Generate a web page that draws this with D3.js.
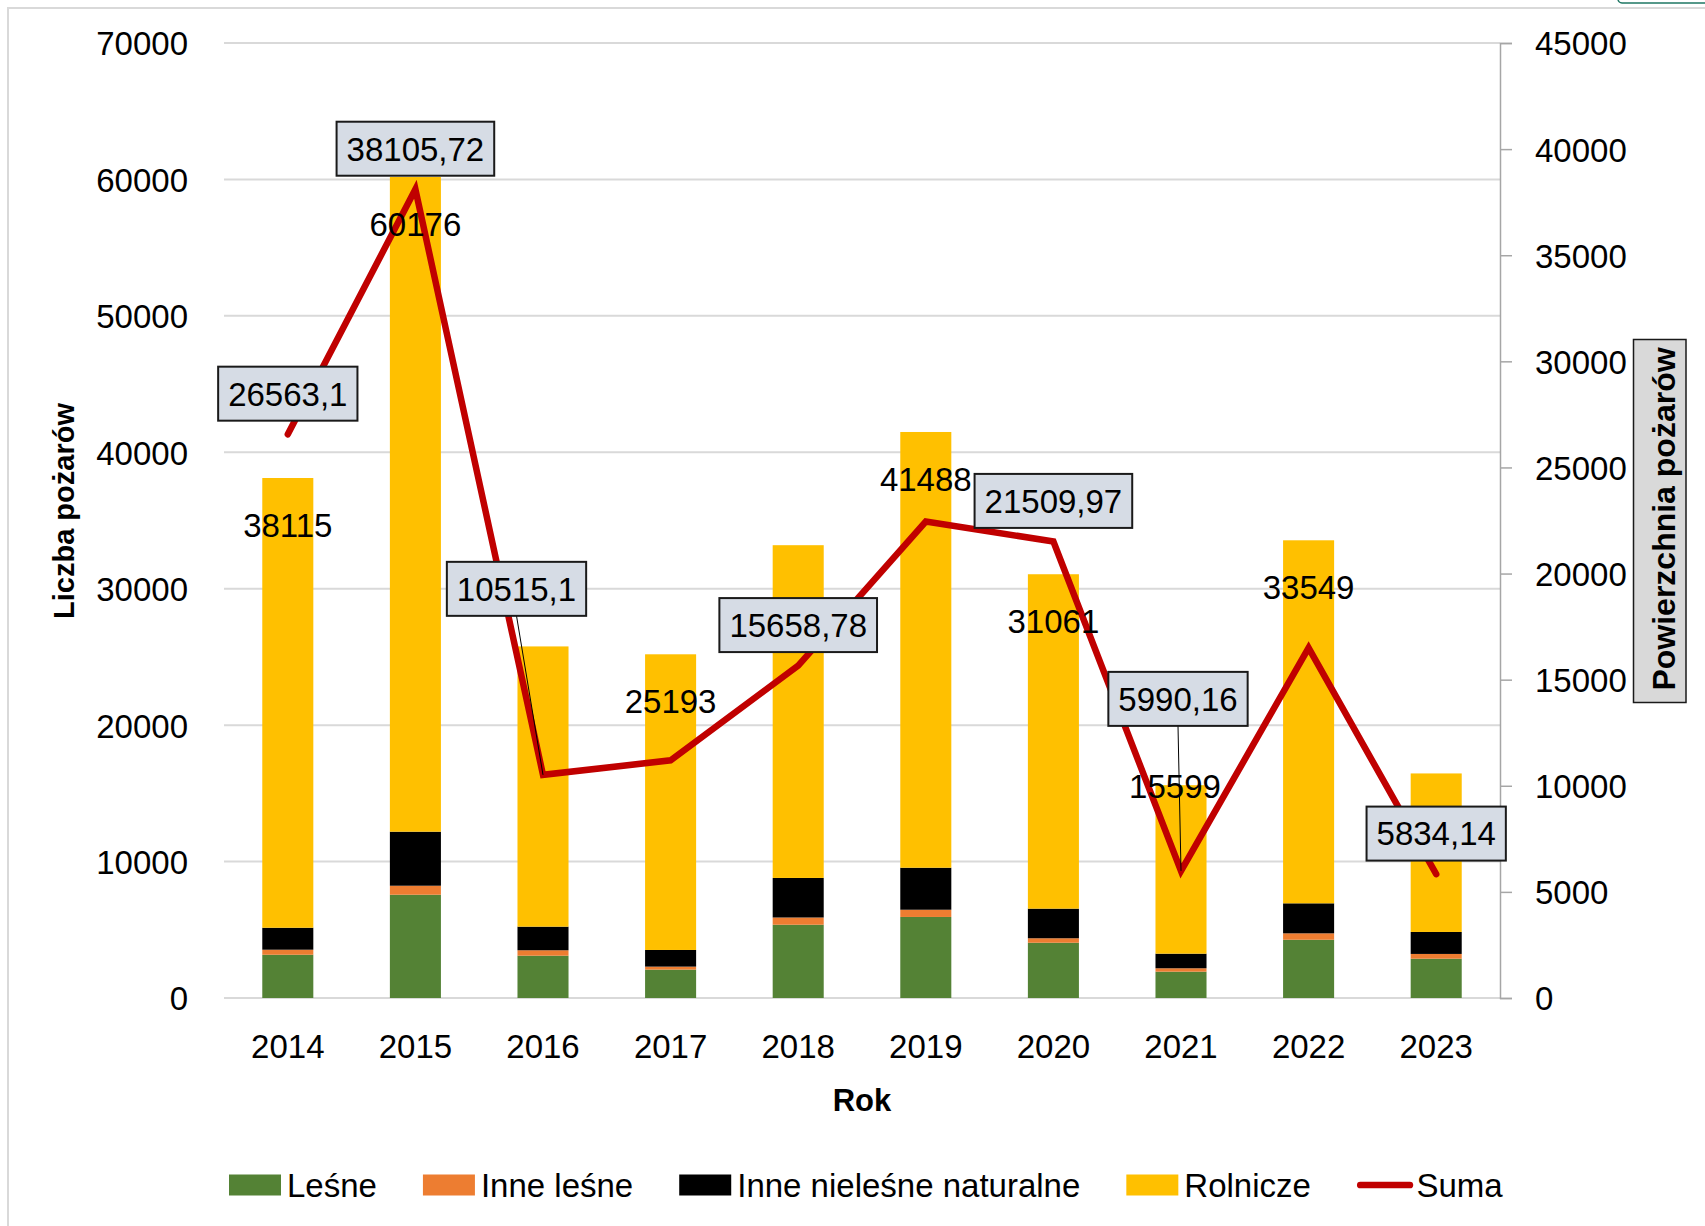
<!DOCTYPE html>
<html>
<head>
<meta charset="utf-8">
<script src="https://cdn.jsdelivr.net/npm/d3@7"></script>
<style>
  body { margin: 0; background: #fff; }
  text { font-family: 'Liberation Sans', Arial, sans-serif; fill: #000; }
</style>
</head>
<body>
<div id="chart"></div>
<script>
// data
let years = ['2014', '2015', '2016', '2017', '2018', '2019', '2020', '2021', '2022', '2023']
let lesne = [3170, 7570, 3100, 2080, 5370, 5940, 4050, 1930, 4270, 2880]
let inneLesne = [370, 660, 400, 220, 530, 530, 330, 250, 470, 350]
let inneNielesne = [1610, 3960, 1730, 1220, 2900, 3080, 2170, 1070, 2200, 1610]
let rolnicze = [32965, 47986, 20540, 21673, 24390, 31938, 24511, 12349, 26609, 11620]
let suma = [26563.1, 38105.72, 10515.1, 11200, 15658.78, 22450, 21509.97, 5990.16, 16500, 5834.14]

// only some labels are visible in the original
let barLabelYears = ['2014', '2015', '2017', '2019', '2020', '2021', '2022']
let sumaLabelYears = ['2014', '2015', '2016', '2018', '2020', '2021', '2023']

let leftTicks = [0, 10000, 20000, 30000, 40000, 50000, 60000, 70000]
let rightTicks = [0, 5000, 10000, 15000, 20000, 25000, 30000, 35000, 40000, 45000]
let seriesNames = ['Leśne', 'Inne leśne', 'Inne nieleśne naturalne', 'Rolnicze']

let margin = { top: 43, left: 224, right: 205, bottom: 228 }
let width = 1705 - margin.left - margin.right
let height = 1226 - margin.top - margin.bottom

let root = d3
  .select('#chart')
  .append('svg')
  .attr('width', 1705)
  .attr('height', 1226)

// outer chart frame
root.append('rect')
  .attr('x', 8)
  .attr('y', 8)
  .attr('width', 1800)
  .attr('height', 1400)
  .attr('fill', 'none')
  .attr('stroke', '#d9d9d9')
  .attr('stroke-width', 2)

// selection handle peeking in at the top right
root.append('rect')
  .attr('x', 1618)
  .attr('y', -14)
  .attr('width', 100)
  .attr('height', 17)
  .attr('rx', 4)
  .attr('fill', '#fff')
  .attr('stroke', '#1e7763')
  .attr('stroke-width', 1.5)

let svg = root.append('g')
  .attr('transform', 'translate(' + margin.left + ',' + margin.top + ')')

let xScale = d3.scaleBand()
  .domain(years)
  .range([0, width])
  .paddingInner(0.6)
  .paddingOuter(0.3)

let yLeft = d3.scaleLinear().domain([0, 70000]).range([height, 0])
let yRight = d3.scaleLinear().domain([0, 45000]).range([height, 0])

let colorScale = d3.scaleOrdinal()
  .domain(seriesNames)
  .range(['#548235', '#ed7d31', '#000000', '#ffc000'])

let rows = years.map((y, i) => ({
  year: y,
  'Leśne': lesne[i],
  'Inne leśne': inneLesne[i],
  'Inne nieleśne naturalne': inneNielesne[i],
  'Rolnicze': rolnicze[i]
}))
let totals = rows.map(d => d3.sum(seriesNames, k => d[k]))

// gridlines
svg.selectAll('.grid')
  .data(leftTicks)
  .enter()
  .append('line')
  .attr('class', 'grid')
  .attr('x1', 0)
  .attr('x2', width)
  .attr('y1', d => yLeft(d))
  .attr('y2', d => yLeft(d))
  .attr('stroke', '#d9d9d9')
  .attr('stroke-width', 2)

// stacked bars
let stacked = d3.stack().keys(seriesNames)(rows)

svg.selectAll('.layer')
  .data(stacked)
  .enter()
  .append('g')
  .attr('class', 'layer')
  .attr('fill', d => colorScale(d.key))
  .selectAll('rect')
  .data(d => d)
  .enter()
  .append('rect')
  .attr('x', d => xScale(d.data.year))
  .attr('width', xScale.bandwidth())
  .attr('y', d => yLeft(d[1]))
  .attr('height', d => yLeft(d[0]) - yLeft(d[1]))

// left axis
let leftAxis = d3.axisLeft(yLeft)
  .tickValues(leftTicks)
  .tickFormat(d3.format('d'))
  .tickSize(0)
  .tickPadding(36)
svg.append('g')
  .call(leftAxis)
  .call(g => g.select('.domain').remove())
  .selectAll('text')
  .attr('font-size', 33)
  .attr('font-family', "'Liberation Sans', Arial, sans-serif")
  .attr('dy', '0.36em')

// right axis
let rightAxis = d3.axisRight(yRight)
  .tickValues(rightTicks)
  .tickFormat(d3.format('d'))
  .tickSize(12)
  .tickPadding(23)
let ra = svg.append('g')
  .attr('transform', `translate(${width},0)`)
  .call(rightAxis)
ra.select('.domain').attr('stroke', '#a6a6a6').attr('stroke-width', 1.5)
ra.selectAll('.tick line').attr('stroke', '#a6a6a6').attr('stroke-width', 1.5)
ra.selectAll('text')
  .attr('font-size', 33)
  .attr('font-family', "'Liberation Sans', Arial, sans-serif")
  .attr('dy', '0.36em')

// x axis
let bottomAxis = d3.axisBottom(xScale).tickSize(0).tickPadding(37)
svg.append('g')
  .attr('transform', `translate(0,${height})`)
  .call(bottomAxis)
  .call(g => g.select('.domain').remove())
  .selectAll('text')
  .attr('font-size', 33)
  .attr('font-family', "'Liberation Sans', Arial, sans-serif")

// Suma line on the right axis
let points = years.map((y, i) => ({
  year: y,
  value: suma[i],
  x: xScale(y) + xScale.bandwidth() / 2,
  y: yRight(suma[i])
}))

let line = d3.line().x(d => d.x).y(d => d.y)

svg.append('path')
  .datum(points)
  .attr('d', line)
  .attr('fill', 'none')
  .attr('stroke', '#c00000')
  .attr('stroke-width', 6.5)
  .attr('stroke-linejoin', 'miter')
  .attr('stroke-linecap', 'round')

// bar total labels (moved by hand in the original for 2021)
let barNudge = { '2021': [-6, 1] }
svg.selectAll('.bar-label')
  .data(years.map((y, i) => ({ year: y, total: totals[i] })).filter(d => barLabelYears.includes(d.year)))
  .enter()
  .append('text')
  .attr('class', 'bar-label')
  .text(d => d.total)
  .attr('text-anchor', 'middle')
  .attr('font-size', 33)
  .attr('x', d => xScale(d.year) + xScale.bandwidth() / 2 + (barNudge[d.year] ? barNudge[d.year][0] : 0))
  .attr('y', d => yLeft(d.total) + (barNudge[d.year] ? barNudge[d.year][1] : 47))
  .attr('dy', '0.36em')

// Suma labels in boxes, two of them dragged away with leader lines
let boxNudge = { '2016': [-26.5, -186], '2021': [-3, -172] }
let boxH = 54

let sumaPoints = points.filter(d => sumaLabelYears.includes(d.year))

sumaPoints.forEach(d => {
  let nudge = boxNudge[d.year] || [0, -40.6]
  let cx = d.x + nudge[0]
  let cy = d.y + nudge[1]
  if (boxNudge[d.year]) {
    svg.append('line')
      .attr('x1', cx)
      .attr('y1', cy + boxH / 2)
      .attr('x2', d.x)
      .attr('y2', d.y)
      .attr('stroke', '#000')
      .attr('stroke-width', 1)
  }
  let g = svg.append('g').attr('class', 'suma-label')
  let t = g.append('text')
    .text(String(d.value).replace('.', ','))
    .attr('x', cx)
    .attr('y', cy)
    .attr('dy', '0.36em')
    .attr('text-anchor', 'middle')
    .attr('font-size', 33)
  let w = t.node().getComputedTextLength() + 20
  g.insert('rect', 'text')
    .attr('x', cx - w / 2)
    .attr('y', cy - boxH / 2)
    .attr('width', w)
    .attr('height', boxH)
    .attr('fill', '#d6dce5')
    .attr('stroke', '#1a1a1a')
    .attr('stroke-width', 2)
})

// axis titles
root.append('text')
  .text('Liczba pożarów')
  .attr('transform', 'translate(74,511) rotate(-90)')
  .attr('text-anchor', 'middle')
  .attr('font-size', 29)
  .attr('font-weight', 'bold')

root.append('rect')
  .attr('x', 1633.5)
  .attr('y', 339.5)
  .attr('width', 52.5)
  .attr('height', 363)
  .attr('fill', '#d9d9d9')
  .attr('stroke', '#1a1a1a')
  .attr('stroke-width', 1.5)

root.append('text')
  .text('Powierzchnia pożarów')
  .attr('transform', 'translate(1675,519) rotate(-90)')
  .attr('text-anchor', 'middle')
  .attr('font-size', 32)
  .attr('font-weight', 'bold')

root.append('text')
  .text('Rok')
  .attr('x', margin.left + width / 2)
  .attr('y', 1111)
  .attr('text-anchor', 'middle')
  .attr('font-size', 31)
  .attr('font-weight', 'bold')

// legend
let legend = root.append('g')
  .attr('transform', 'translate(229,1185)')

let legendX = 0
seriesNames.concat(['Suma']).forEach(name => {
  let g = legend.append('g')
    .attr('class', 'legend-entry')
    .attr('transform', `translate(${legendX},0)`)
  let textX = 58
  if (name === 'Suma') {
    g.append('line')
      .attr('x1', 3.4)
      .attr('x2', 53)
      .attr('y1', 0)
      .attr('y2', 0)
      .attr('stroke', '#c00000')
      .attr('stroke-width', 6.7)
      .attr('stroke-linecap', 'round')
    textX = 59.5
  } else {
    g.append('rect')
      .attr('x', 0)
      .attr('y', -10.5)
      .attr('width', 52)
      .attr('height', 21)
      .attr('fill', colorScale(name))
  }
  let t = g.append('text')
    .text(name)
    .attr('x', textX)
    .attr('y', 11.5)
    .attr('font-size', 33)
  legendX += textX + t.node().getComputedTextLength() + 46
})
</script>
</body>
</html>
